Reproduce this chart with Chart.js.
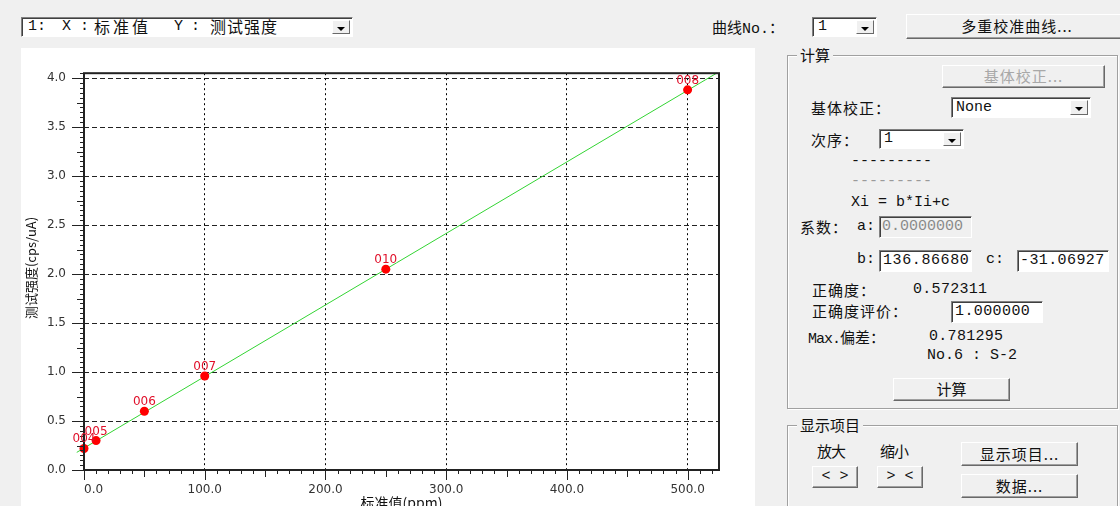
<!DOCTYPE html>
<html>
<head>
<meta charset="utf-8">
<script src="https://cdn.jsdelivr.net/npm/chart.js@4.4.1/dist/chart.umd.min.js"></script>
<style>
  html, body { margin: 0; padding: 0; }
  body { width: 1120px; height: 506px; overflow: hidden; position: relative; background: #f0f0f0;
         font-family: "Noto Sans CJK SC", sans-serif; font-size: 15px; color: #111; }
  .a { position: absolute; white-space: nowrap; line-height: 20px; }
  .m { font-family: "Liberation Mono", "DejaVu Sans Mono", monospace; font-size: 15px; }
  .box { position: absolute; box-sizing: border-box; background: #fff; border: 1px solid;
         border-color: #808080 #fff #fff #808080; box-shadow: inset 1px 1px 0 #404040; }
  .btn { position: absolute; box-sizing: border-box; background: #f0f0f0; border: 1px solid;
         border-color: #fff #696969 #696969 #fff; box-shadow: inset -1px -1px 0 #a0a0a0;
         text-align: center; white-space: nowrap; }
  .arr { position: absolute; right: 2px; top: 2px; bottom: 2px; width: 18px; box-sizing: border-box;
         background: #f0f0f0; border: 1px solid; border-color: #fff #696969 #696969 #fff; }
  .arr:after { content: ""; position: absolute; left: 4px; top: 6px; border-left: 4px solid transparent;
         border-right: 4px solid transparent; border-top: 4px solid #000; }
  .grp { position: absolute; box-sizing: border-box; border: 1px solid #a0a0a0;
         box-shadow: inset 1px 1px 0 #fff, 1px 1px 0 #fff; }
  .lg { background: #f0f0f0; padding: 0 3px; }
  #panel { position: absolute; left: 21px; top: 48px; width: 734px; height: 458px; background: #fff; }
</style>
</head>
<body>
<!-- 上部 X/Y 选择 -->
<div class="box" style="left:21px;top:17px;width:332px;height:20px">
  <div class="arr"></div>
</div>
<div class="a m" style="left:28px;top:17px">1:</div>
<div class="a m" style="left:62px;top:17px">X</div>
<div class="a m" style="left:80px;top:17px">:</div>
<div class="a" style="left:94px;top:16px;font-size:16px;letter-spacing:3px">标准值</div>
<div class="a m" style="left:174px;top:17px">Y</div>
<div class="a m" style="left:191px;top:17px">:</div>
<div class="a" style="left:210px;top:16px;font-size:16px;letter-spacing:1px">测试强度</div>

<div class="a" style="left:712px;top:17px">曲线<span class="m">No.</span>：</div>
<div class="box" style="left:812px;top:17px;width:65px;height:20px"><div class="arr"></div></div>
<div class="a m" style="left:818px;top:17px">1</div>
<div class="btn" style="left:906px;top:14px;width:222px;height:25px;line-height:22px;letter-spacing:1px">多重校准曲线...</div>

<!-- 图表 -->
<div id="panel"><canvas id="cv" width="734" height="458"></canvas></div>

<!-- 计算 -->
<div class="grp" style="left:787px;top:55px;width:331px;height:354px"></div>
<div class="a lg" style="left:797px;top:45px">计算</div>
<div class="btn" style="left:942px;top:65px;width:163px;height:23px;line-height:20px;color:#a8a8a8;letter-spacing:1px">基体校正...</div>
<div class="a" style="left:811px;top:98px;letter-spacing:1px">基体校正：</div>
<div class="box" style="left:951px;top:97px;width:140px;height:21px"><div class="arr"></div></div>
<div class="a m" style="left:956px;top:98px">None</div>
<div class="a" style="left:811px;top:130px;letter-spacing:1px">次序：</div>
<div class="box" style="left:879px;top:129px;width:85px;height:20px"><div class="arr"></div></div>
<div class="a m" style="left:884px;top:129px">1</div>
<div class="a m" style="left:851px;top:152px">---------</div>
<div class="a m" style="left:851px;top:172px;color:#9a9a9a">---------</div>
<div class="a m" style="left:851px;top:193px">Xi = b*Ii+c</div>
<div class="a" style="left:800px;top:217px;letter-spacing:1px">系数：</div>
<div class="a m" style="left:857px;top:217px">a:</div>
<div class="box" style="left:879px;top:216px;width:93px;height:22px;background:#f0f0f0"></div>
<div class="a m" style="left:882px;top:217px;color:#8a8a8a">0.0000000</div>
<div class="a m" style="left:857px;top:250px">b:</div>
<div class="box" style="left:879px;top:250px;width:93px;height:22px"></div>
<div class="a m" style="left:883px;top:251px;letter-spacing:0.6px">136.86680</div>
<div class="a m" style="left:986px;top:250px">c:</div>
<div class="box" style="left:1017px;top:250px;width:92px;height:22px"></div>
<div class="a m" style="left:1020px;top:251px;letter-spacing:0.4px">-31.06927</div>
<div class="a" style="left:812px;top:280px;letter-spacing:1px">正确度：</div>
<div class="a m" style="left:913px;top:280px;letter-spacing:0.3px">0.572311</div>
<div class="a" style="left:812px;top:301px;letter-spacing:1px">正确度评价：</div>
<div class="box" style="left:951px;top:301px;width:92px;height:22px"></div>
<div class="a m" style="left:955px;top:302px;letter-spacing:0.4px">1.000000</div>
<div class="a" style="left:808px;top:327px"><span class="m" style="letter-spacing:-1px">Max.</span>偏差：</div>
<div class="a m" style="left:929px;top:327px;letter-spacing:0.3px">0.781295</div>
<div class="a m" style="left:927px;top:346px">No.6 : S-2</div>
<div class="btn" style="left:893px;top:378px;width:117px;height:23px;line-height:20px">计算</div>

<!-- 显示项目 -->
<div class="grp" style="left:787px;top:425px;width:331px;height:100px"></div>
<div class="a lg" style="left:797px;top:415px">显示项目</div>
<div class="a" style="left:817px;top:441px;letter-spacing:-1px">放大</div>
<div class="a" style="left:880px;top:441px;letter-spacing:-1px">缩小</div>
<div class="btn m" style="left:812px;top:466px;width:46px;height:22px;line-height:19px">&lt; &gt;</div>
<div class="btn m" style="left:877px;top:466px;width:46px;height:22px;line-height:19px">&gt; &lt;</div>
<div class="btn" style="left:961px;top:442px;width:117px;height:24px;line-height:21px;letter-spacing:1px">显示项目...</div>
<div class="btn" style="left:961px;top:474px;width:117px;height:24px;line-height:21px;letter-spacing:1px">数据...</div>

<script>
// 标准样品 (标准值 ppm / 测试强度 cps/uA)
const names = ['004', '005', '006', '007', '010', '008'];
const stdValues = [0, 10, 50, 100, 250, 500];
const intensities = [0.22, 0.30, 0.60, 0.96, 2.05, 3.88];
// 校准线 (图上读取的两端)
const fitX = [-6, 524];
const fitY = [0.18, 4.05];
// 坐标轴
const xMin = 0, xMax = 526, xStep = 100;
const yMin = 0, yMax = 4.05, yStep = 0.5;
const xTitle = '标准值(ppm)';
const yTitle = '测试强度(cps/uA)';

const tickFont = { family: 'DejaVu Sans', size: 12 };
const noLine = 'rgba(0,0,0,0)';

// 边框、小刻度、轴标题、点名
const deco = {
  id: 'deco',
  afterDraw(chart) {
    const { ctx, chartArea: a, scales: { x, y } } = chart;
    ctx.save();
    ctx.strokeStyle = '#222';
    ctx.lineWidth = 1;
    ctx.beginPath();
    for (let k = 0; k * 0.05 <= yMax + 1e-9; k++) {
      const py = Math.round(y.getPixelForValue(k * 0.05)) + 0.5;
      const len = k % 10 === 0 ? 12 : (k % 5 === 0 ? 7 : 4);
      ctx.moveTo(a.left - len, py); ctx.lineTo(a.left, py);
    }
    for (let k = 0; k * 10 <= xMax; k++) {
      const px = Math.round(x.getPixelForValue(k * 10)) + 0.5;
      const len = k % 10 === 0 ? 10 : (k % 5 === 0 ? 7 : 4);
      ctx.moveTo(px, a.bottom); ctx.lineTo(px, a.bottom + len);
    }
    ctx.stroke();
    ctx.lineWidth = 2;
    ctx.strokeRect(a.left, a.top, a.right - a.left, a.bottom - a.top);

    // 点名
    ctx.fillStyle = '#e0102a';
    ctx.font = '12px "DejaVu Sans"';
    ctx.textAlign = 'center';
    ctx.textBaseline = 'alphabetic';
    chart.getDatasetMeta(1).data.forEach((p, i) => ctx.fillText(names[i], p.x, p.y - 6));

    // 轴标题
    ctx.fillStyle = '#111';
    ctx.font = '13px "Noto Sans CJK SC"';
    ctx.textBaseline = 'middle';
    ctx.translate(10, 220);
    ctx.rotate(-Math.PI / 2);
    ctx.fillText(yTitle, 0, 0);
    ctx.setTransform(1, 0, 0, 1, 0, 0);
    ctx.font = '14px "Noto Sans CJK SC"';
    ctx.textBaseline = 'top';
    ctx.fillText(xTitle, (a.left + a.right) / 2, 448);
    ctx.restore();
  }
};

new Chart(document.getElementById('cv'), {
  type: 'scatter',
  data: {
    datasets: [
      { type: 'line', data: fitX.map((v, i) => ({ x: v, y: fitY[i] })), borderColor: '#33d433',
        borderWidth: 1, pointRadius: 0, clip: false, order: 2 },
      { data: stdValues.map((v, i) => ({ x: v, y: intensities[i] })), backgroundColor: '#ff0000',
        borderColor: '#ff0000', pointRadius: 4.5, borderWidth: 0, clip: false, order: 1 }
    ]
  },
  options: {
    animation: false, responsive: false, devicePixelRatio: 1, events: [],
    layout: { padding: { top: 24, right: 36, left: 0, bottom: 0 } },
    plugins: { legend: { display: false }, tooltip: { enabled: false } },
    scales: {
      x: {
        type: 'linear', min: xMin, max: xMax,
        afterFit: s => { s.height = 36; },
        border: { display: false, dash: [2, 3] },
        grid: { drawTicks: false, lineWidth: 1, color: c => (c.tick && c.tick.value === 0) ? noLine : '#000' },
        ticks: { stepSize: xStep, includeBounds: false, autoSkip: false, maxRotation: 0, padding: 13,
                 font: tickFont, color: '#333', callback: v => v === 0 ? '     0.0' : v.toFixed(1) }
      },
      y: {
        min: yMin, max: yMax,
        afterFit: s => { s.width = 63; },
        border: { display: false, dash: [5, 3] },
        grid: { drawTicks: false, lineWidth: 1, color: c => (c.tick && c.tick.value === 0) ? noLine : '#222' },
        ticks: { stepSize: yStep, includeBounds: false, padding: 18, font: tickFont, color: '#333',
                 callback: v => v.toFixed(1) }
      }
    }
  },
  plugins: [deco]
});
</script>
</body>
</html>
